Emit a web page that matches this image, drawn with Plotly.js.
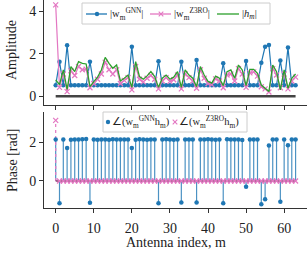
<!DOCTYPE html>
<html><head><meta charset="utf-8">
<script src="https://cdn.plot.ly/plotly-3.0.1.min.js"></script>
<style>html,body{margin:0;padding:0;background:#fff}#c{width:308px;height:254px}</style>
</head><body><div id="c"></div>
<script>
const index = Array.from({length:64},(_, i)=>i);
const ampGNN = [0.52,1.63,0.52,2.40,0.52,0.52,0.52,0.52,0.52,1.63,0.52,0.52,0.52,0.52,0.52,0.52,0.52,0.52,0.52,0.52,2.33,0.52,0.52,0.52,0.52,0.52,0.52,1.65,0.52,0.52,0.52,0.52,0.52,1.63,0.52,0.52,0.52,1.71,0.52,0.52,0.52,0.52,0.52,0.52,1.55,0.52,0.52,0.52,0.52,0.52,1.66,0.52,0.52,0.52,1.58,2.33,2.41,0.52,0.52,1.68,0.52,2.29,0.52,0.52];
const ampZ3RO = [4.30,0.42,1.05,0.22,1.20,0.98,1.40,1.25,1.28,0.40,0.60,0.80,1.05,1.60,1.25,1.05,1.25,0.60,0.75,0.88,0.30,1.40,0.80,0.68,0.85,0.98,0.80,0.35,0.72,0.88,0.70,0.78,1.00,0.35,1.05,0.88,0.72,0.38,1.25,0.85,0.60,0.55,0.82,0.72,0.40,1.00,1.05,0.72,1.30,1.05,0.42,1.10,1.15,0.95,0.45,0.35,0.20,1.30,1.00,0.40,1.05,0.35,0.72,0.90];
const ampH = [0.77,0.55,1.24,0.32,1.40,1.16,1.63,1.55,1.52,0.45,0.69,0.90,1.24,1.83,1.55,1.32,1.47,0.72,0.85,1.00,0.42,1.63,0.93,0.80,0.96,1.16,0.93,0.42,0.85,1.00,0.80,0.90,1.16,0.42,1.24,1.00,0.85,0.45,1.40,1.00,0.70,0.62,0.95,0.85,0.50,1.16,1.24,0.85,1.47,1.24,0.50,1.27,1.27,1.08,0.53,0.38,0.22,1.47,1.16,0.30,1.24,0.38,0.85,1.05];
const phaseGNN = [2.15,-1.15,2.14,1.70,2.13,2.15,2.15,2.16,2.17,-1.13,2.15,2.13,2.14,2.15,2.13,2.16,2.14,2.15,2.14,2.15,1.70,2.13,2.16,2.14,2.13,2.15,2.14,-1.15,2.14,2.16,2.14,2.13,2.14,-1.12,2.15,2.15,2.14,-1.12,2.15,2.15,2.16,2.14,2.13,2.14,-1.16,2.16,2.15,2.14,2.14,2.12,-0.30,2.15,2.15,2.14,-1.20,-0.95,1.83,2.15,2.15,-1.08,2.15,1.85,2.15,2.15];
const phaseZ3RO = [3.14,0,0,0,0,0,0,0,0,0,0,0,0,0,0,0,0,0,0,0,0,0,0,0,0,0,0,0,0,0,0,0,0,0,0,0,0,0,0,0,0,0,0,0,0,0,0,0,0,0,0,0,0,0,0,0,0,0,0,0,0,0,0,0];
const xTicks = [0,10,20,30,40,50,60];
const ampLabels = ['|w<sub>m</sub><sup>GNN</sup>|','|w<sub>m</sub><sup>Z3RO</sup>|','|<i>h<sub>m</sub></i>|'];
const phaseLabels = ['∠(w<sub>m</sub><sup>GNN</sup>h<sub>m</sub>)','∠(w<sub>m</sub><sup>Z3RO</sup>h<sub>m</sub>)'];

function stems(xs, ys){
  const sx=[], sy=[];
  xs.forEach((x,i)=>{ sx.push(x,x,null); sy.push(0,ys[i],null); });
  return {sx, sy};
}
const sg = stems(index, phaseGNN);
const sz = stems(index, phaseZ3RO);

const FONT = 'Liberation Serif, Times New Roman, serif';
const BLUE='#1f77b4', PINK='#e377c2', GREEN='#2ca02c';
const W=308, H=254;
const px = v=>v/W, py = v=>1-v/H;

const traces = [
  {x:index, y:index.map(()=>0), mode:'lines', line:{color:'#444', width:2.5}, xaxis:'x', yaxis:'y'},
  {x:index, y:ampGNN, name:ampLabels[0], mode:'lines+markers', line:{color:BLUE, width:1.2}, marker:{color:BLUE, size:4.5, symbol:'circle'}, xaxis:'x', yaxis:'y'},
  {x:index, y:ampZ3RO, name:ampLabels[1], mode:'lines+markers', line:{color:PINK, width:1.2}, marker:{color:PINK, size:5, symbol:'x-thin', line:{color:PINK, width:1.2}}, xaxis:'x', yaxis:'y'},
  {x:index, y:ampH, name:ampLabels[2], mode:'lines', line:{color:GREEN, width:1.3}, xaxis:'x', yaxis:'y'},
  {x:sg.sx, y:sg.sy, mode:'lines', line:{color:'rgba(31,119,180,0.8)', width:1.2}, xaxis:'x2', yaxis:'y2'},
  {x:sz.sx, y:sz.sy, mode:'lines', line:{color:PINK, width:1.2, dash:'dot'}, xaxis:'x2', yaxis:'y2'},
  {x:index, y:index.map(()=>0), mode:'lines', line:{color:'#8a3a6e', width:1.5}, xaxis:'x2', yaxis:'y2'},
  {x:index, y:phaseGNN, name:phaseLabels[0], mode:'markers', marker:{color:BLUE, size:4.5}, xaxis:'x2', yaxis:'y2'},
  {x:index, y:phaseZ3RO, name:phaseLabels[1], mode:'markers', marker:{color:PINK, size:5, symbol:'x-thin', line:{color:PINK, width:1.2}}, xaxis:'x2', yaxis:'y2'}
];

// hand-drawn legends (boxes, samples, labels)
const shapes = [];
const ann = [];
function box(x0,y0,x1,y1){ shapes.push({type:'rect', xref:'paper', yref:'paper', x0:px(x0), x1:px(x1), y0:py(y1), y1:py(y0), line:{color:'#cccccc', width:1}, fillcolor:'rgba(255,255,255,0.85)', layer:'above'}); }
function seg(x0,x1,y,color,dash){ shapes.push({type:'line', xref:'paper', yref:'paper', x0:px(x0), x1:px(x1), y0:py(y), y1:py(y), line:{color:color, width:1.3, dash:dash||'solid'}, layer:'above'}); }
function dot(x,y,color){ shapes.push({type:'circle', xref:'paper', yref:'paper', x0:px(x-2.2), x1:px(x+2.2), y0:py(y+2.2), y1:py(y-2.2), line:{width:0}, fillcolor:color, layer:'above'}); }
function cross(x,y,color){
  shapes.push({type:'line', xref:'paper', yref:'paper', x0:px(x-2.3), x1:px(x+2.3), y0:py(y-2.3), y1:py(y+2.3), line:{color:color, width:1.1}, layer:'above'});
  shapes.push({type:'line', xref:'paper', yref:'paper', x0:px(x-2.3), x1:px(x+2.3), y0:py(y+2.3), y1:py(y-2.3), line:{color:color, width:1.1}, layer:'above'});
}
function label(text,x,y){ ann.push({text:text, xref:'paper', yref:'paper', x:px(x), y:py(y), xanchor:'left', yanchor:'middle', showarrow:false, font:{family:FONT, size:10.5, color:'#222'}}); }

box(82,3,270,24);
seg(86,107,14,BLUE); dot(97,14,BLUE); label(ampLabels[0],108,14);
seg(150,171,14,PINK); cross(161,14,PINK); label(ampLabels[1],172,14);
seg(217,239,14,GREEN); label(ampLabels[2],240,14);

box(103,112,247,132);
dot(108,122,BLUE); label(phaseLabels[0],110,122);
cross(175,122,PINK); label(phaseLabels[1],177,122);

ann.push({text:'Amplitude', xref:'paper', yref:'paper', x:px(12), y:py(50), xanchor:'center', yanchor:'middle', textangle:-90, showarrow:false, font:{family:FONT, size:14, color:'#222'}});
ann.push({text:'Phase [rad]', xref:'paper', yref:'paper', x:px(12), y:py(161), xanchor:'center', yanchor:'middle', textangle:-90, showarrow:false, font:{family:FONT, size:14, color:'#222'}});
ann.push({text:'Antenna index, m', xref:'paper', yref:'paper', x:px(176), y:py(242), xanchor:'center', yanchor:'middle', showarrow:false, font:{family:FONT, size:14, color:'#222'}});

const axCommon = {showline:true, linecolor:'#333', linewidth:1, ticks:'outside', ticklen:4, tickcolor:'#333', showgrid:false, zeroline:false, tickfont:{family:FONT, size:14, color:'#222'}};
const layout = {
  width:W, height:H, margin:{l:0,r:0,t:0,b:0}, paper_bgcolor:'#fff', plot_bgcolor:'#fff',
  showlegend:false,
  font:{family:FONT, color:'#222'},
  xaxis: Object.assign({}, axCommon, {domain:[px(44),px(307)], range:[-3.07,66.0], tickvals:xTicks, showticklabels:false, anchor:'y'}),
  yaxis: Object.assign({}, axCommon, {domain:[py(105),1], range:[-0.41,4.53], tickvals:[0,2,4], anchor:'x'}),
  xaxis2: Object.assign({}, axCommon, {domain:[px(44),px(307)], range:[-3.07,66.0], tickvals:xTicks, anchor:'y2', ticklabelstandoff:3}),
  yaxis2: Object.assign({}, axCommon, {domain:[py(208),py(112)], range:[-1.40,3.57], tickvals:[0,2], anchor:'x2'}),
  shapes: shapes,
  annotations: ann
};
Plotly.newPlot('c', traces, layout, {staticPlot:true, displayModeBar:false});
</script></body></html>
